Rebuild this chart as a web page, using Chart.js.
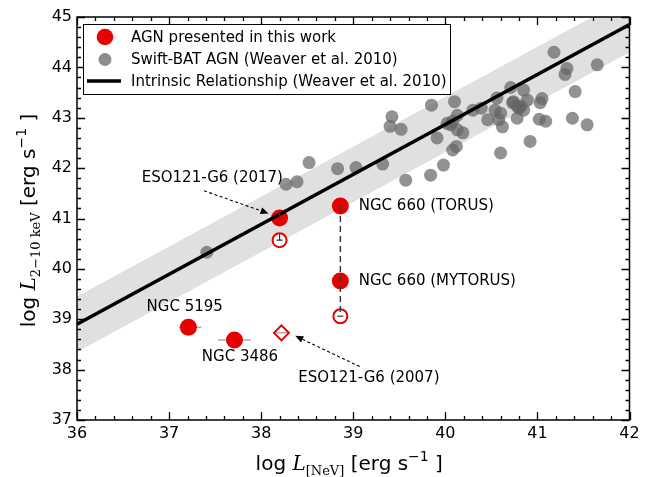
<!DOCTYPE html>
<html><head><meta charset="utf-8">
<script src="https://cdn.jsdelivr.net/npm/chart.js@4/dist/chart.umd.min.js"></script>
<style>html,body{margin:0;padding:0;background:#fff}#wrap{width:665px;height:477px}</style>
</head><body><div id="wrap"><canvas id="c" width="665" height="477"></canvas></div>
<script>
// ---------- data ----------
const xTickValues = [36, 37, 38, 39, 40, 41, 42];
const yTickValues = [37, 38, 39, 40, 41, 42, 43, 44, 45];

// Swift-BAT AGN (Weaver et al. 2010)
const swiftX = [37.41,38.27,38.39,38.52,38.83,39.03,39.32,39.42,39.40,39.52,39.57,39.84,39.85,39.91,39.98,40.02,
  40.08,40.12,40.08,40.06,40.13,40.19,40.10,40.13,40.30,40.39,40.46,40.56,40.54,40.60,40.58,40.62,40.60,
  40.71,40.74,40.78,40.73,40.85,40.82,40.80,40.85,40.89,40.78,40.92,41.05,41.03,41.02,41.09,
  41.18,41.32,41.30,41.65,41.41,41.38,41.54];
const swiftY = [40.33,41.68,41.73,42.11,41.99,42.01,42.08,43.02,42.83,42.77,41.76,41.86,43.25,42.60,42.06,42.89,
  42.36,42.43,42.93,42.86,42.76,42.70,43.32,43.05,43.15,43.19,42.96,43.39,43.15,43.09,42.96,42.82,42.30,
  43.60,43.32,43.23,43.30,43.55,43.23,43.19,43.15,43.35,42.99,42.53,43.38,43.30,42.97,42.93,
  44.30,43.98,43.86,44.05,43.52,42.99,42.86];

// AGN presented in this work (filled)
const workNames = ['ESO121-G6 (2017)', 'NGC 660 (TORUS)', 'NGC 660 (MYTORUS)', 'NGC 5195', 'NGC 3486'];
const workX = [38.20, 38.86, 38.86, 37.21, 37.71];
const workY = [41.01, 41.25, 39.76, 38.84, 38.59];
// open circles (alternative values)
const openX = [38.20, 38.86];
const openY = [40.57, 39.06];
// ESO121-G6 (2007) open diamond
const diamondX = [38.22];
const diamondY = [38.73];
// horizontal error bars
const errX = [37.21, 37.71, 38.22];
const errY = [38.84, 38.59, 38.73];
const errLo = [37.11, 37.53, 38.14];
const errHi = [37.35, 37.89, 38.29];

// Intrinsic relationship
const relX = [36, 42];
const relY = [38.90, 44.85];
const relScatter = 0.55;

// NGC 660 connector
const connX = [38.86, 38.86];
const connY = [41.25, 39.06];

// Text annotations
const annText = ['ESO121-G6 (2017)', 'ESO121-G6 (2007)'];
const annTextX = [37.47, 39.17];
const annTextY = [41.80, 37.84];
const annFromX = [37.38, 39.07];
const annFromY = [41.55, 38.06];
const annToX = [38.08, 38.37];
const annToY = [41.10, 38.67];

const lblText = ['NGC 660 (TORUS)', 'NGC 660 (MYTORUS)', 'NGC 5195', 'NGC 3486'];
const lblX = [39.06, 39.06, 37.17, 37.77];
const lblY = [41.25, 39.76, 39.24, 38.25];
const lblAlign = ['left', 'left', 'center', 'center'];

const legendLabels = ['AGN presented in this work', 'Swift-BAT AGN (Weaver et al. 2010)', 'Intrinsic Relationship (Weaver et al. 2010)'];

// ---------- styles ----------
const RED = '#e60000';
const GREYPT = 'rgba(100,100,100,0.7)';
const SANS = '"DejaVu Sans", sans-serif';
const SERIF = '"DejaVu Serif", serif';

const pts = (xs, ys) => xs.map((x, i) => ({x, y: ys[i]}));

function richText(ctx, parts, cx, cy) {
  let total = 0;
  parts.forEach(p => { ctx.font = p.font; p.w = ctx.measureText(p.t).width; total += p.w; });
  let x = cx - total / 2;
  ctx.textBaseline = 'alphabetic';
  ctx.textAlign = 'left';
  parts.forEach(p => { ctx.font = p.font; ctx.fillText(p.t, x, cy + (p.dy || 0)); x += p.w; });
}

const decor = {
  id: 'decor',
  beforeDatasetsDraw(chart) {
    const ctx = chart.ctx, xs = chart.scales.x, ys = chart.scales.y;
    ctx.save();
    ctx.strokeStyle = '#aaaaaa';
    ctx.lineWidth = 1.5;
    errX.forEach((x, i) => {
      const py = ys.getPixelForValue(errY[i]);
      ctx.beginPath();
      ctx.moveTo(xs.getPixelForValue(errLo[i]), py);
      ctx.lineTo(xs.getPixelForValue(errHi[i]), py);
      ctx.stroke();
    });
    ctx.restore();
  },
  afterDatasetsDraw(chart) {
    const ctx = chart.ctx, xs = chart.scales.x, ys = chart.scales.y, ca = chart.chartArea;
    ctx.save();
    // small dark error ticks inside ESO121-G6 markers
    ctx.strokeStyle = '#333';
    ctx.lineWidth = 1.2;
    {
      const px = xs.getPixelForValue(workX[0]), py = ys.getPixelForValue(workY[0]);
      ctx.beginPath(); ctx.moveTo(px, py - 5); ctx.lineTo(px, py + 1); ctx.stroke();
      const ox = xs.getPixelForValue(openX[0]), oy = ys.getPixelForValue(openY[0]);
      ctx.beginPath(); ctx.moveTo(ox, oy - 6); ctx.lineTo(ox, oy); ctx.moveTo(ox - 3, oy); ctx.lineTo(ox + 3, oy); ctx.stroke();
      const nx = xs.getPixelForValue(openX[1]), ny = ys.getPixelForValue(openY[1]);
      ctx.beginPath(); ctx.moveTo(nx - 3, ny); ctx.lineTo(nx + 3, ny); ctx.stroke();
    }
    // frame
    ctx.strokeStyle = '#000';
    ctx.lineWidth = 1.5;
    ctx.strokeRect(ca.left, ca.top, ca.right - ca.left, ca.bottom - ca.top);
    // inward ticks on all four sides
    ctx.lineWidth = 1.3;
    ctx.beginPath();
    for (let i = 0; i <= 30; i++) {
      const v = 36 + i * 0.2;
      const L = i % 5 === 0 ? 8 : 4;
      const px = Math.round(xs.getPixelForValue(v)) + 0.5;
      ctx.moveTo(px, ca.bottom); ctx.lineTo(px, ca.bottom - L);
      ctx.moveTo(px, ca.top); ctx.lineTo(px, ca.top + L);
    }
    for (let i = 0; i <= 40; i++) {
      const v = 37 + i * 0.2;
      const L = i % 5 === 0 ? 8 : 4;
      const py = Math.round(ys.getPixelForValue(v)) + 0.5;
      ctx.moveTo(ca.left, py); ctx.lineTo(ca.left + L, py);
      ctx.moveTo(ca.right, py); ctx.lineTo(ca.right - L, py);
    }
    ctx.stroke();
    // arrows
    ctx.strokeStyle = '#000'; ctx.fillStyle = '#000'; ctx.lineWidth = 1.1;
    annFromX.forEach((fx, i) => {
      const x0 = xs.getPixelForValue(fx), y0 = ys.getPixelForValue(annFromY[i]);
      const x1 = xs.getPixelForValue(annToX[i]), y1 = ys.getPixelForValue(annToY[i]);
      const ang = Math.atan2(y1 - y0, x1 - x0);
      const hl = 8, hw = 3.5;
      const bx = x1 - hl * Math.cos(ang), by = y1 - hl * Math.sin(ang);
      ctx.setLineDash([3, 2.5]);
      ctx.beginPath(); ctx.moveTo(x0, y0); ctx.lineTo(bx, by); ctx.stroke();
      ctx.setLineDash([]);
      ctx.beginPath();
      ctx.moveTo(x1, y1);
      ctx.lineTo(bx + hw * Math.sin(ang), by - hw * Math.cos(ang));
      ctx.lineTo(bx - hw * Math.sin(ang), by + hw * Math.cos(ang));
      ctx.closePath(); ctx.fill();
    });
    // annotation texts
    ctx.font = '15px ' + SANS;
    ctx.textBaseline = 'middle';
    ctx.fillStyle = '#000';
    annText.forEach((t, i) => {
      ctx.textAlign = 'center';
      ctx.fillText(t, xs.getPixelForValue(annTextX[i]), ys.getPixelForValue(annTextY[i]));
    });
    lblText.forEach((t, i) => {
      ctx.textAlign = lblAlign[i];
      ctx.fillText(t, xs.getPixelForValue(lblX[i]), ys.getPixelForValue(lblY[i]));
    });
    ctx.restore();
  },
  afterDraw(chart) {
    const ctx = chart.ctx, ca = chart.chartArea;
    ctx.save();
    // legend
    const lx = ca.left + 6, ly = ca.top + 7, lw = 367, lh = 70;
    ctx.fillStyle = '#fff';
    ctx.fillRect(lx, ly, lw, lh);
    ctx.strokeStyle = '#000'; ctx.lineWidth = 1;
    ctx.strokeRect(lx + 0.5, ly + 0.5, lw, lh);
    const rows = [ly + 13, ly + 35.5, ly + 57];
    const mx = lx + 22;
    ctx.fillStyle = RED;
    ctx.beginPath(); ctx.arc(mx, rows[0], 8.3, 0, Math.PI * 2); ctx.fill();
    ctx.fillStyle = 'rgba(140,140,140,1)';
    ctx.beginPath(); ctx.arc(mx, rows[1], 6.5, 0, Math.PI * 2); ctx.fill();
    ctx.strokeStyle = '#000'; ctx.lineWidth = 3.5;
    ctx.beginPath(); ctx.moveTo(lx + 4, rows[2]); ctx.lineTo(lx + 38, rows[2]); ctx.stroke();
    ctx.fillStyle = '#000';
    ctx.font = '15px ' + SANS;
    ctx.textAlign = 'left'; ctx.textBaseline = 'middle';
    legendLabels.forEach((t, i) => ctx.fillText(t, lx + 48, rows[i] + 1));
    // axis titles
    ctx.fillStyle = '#000';
    const F = 20;
    richText(ctx, [
      {t: 'log ', font: F + 'px ' + SANS},
      {t: 'L', font: 'italic ' + F + 'px ' + SERIF},
      {t: '[NeV]', font: '13px ' + SERIF, dy: 5},
      {t: ' [erg s', font: F + 'px ' + SANS},
      {t: '\u22121', font: '14px ' + SANS, dy: -9},
      {t: ' ]', font: F + 'px ' + SANS}
    ], (ca.left + ca.right) / 2 - 4, 470);
    ctx.translate(35, (ca.top + ca.bottom) / 2 + 2);
    ctx.rotate(-Math.PI / 2);
    richText(ctx, [
      {t: 'log ', font: F + 'px ' + SANS},
      {t: 'L', font: 'italic ' + F + 'px ' + SERIF},
      {t: '2\u221210 keV', font: '13px ' + SERIF, dy: 5},
      {t: ' [erg s', font: F + 'px ' + SANS},
      {t: '\u22121', font: '14px ' + SANS, dy: -9},
      {t: ' ]', font: F + 'px ' + SANS}
    ], 0, 0);
    ctx.restore();
  }
};

new Chart(document.getElementById('c'), {
  type: 'scatter',
  data: {
    datasets: [
      { label: 'conn', data: pts(connX, connY), showLine: true, borderColor: '#3a3a3a', borderWidth: 1.5,
        borderDash: [6, 4], pointRadius: 0, order: 0 },
      { label: 'Intrinsic Relationship (Weaver et al. 2010)', data: pts(relX, relY), showLine: true,
        borderColor: '#000', borderWidth: 3.5, pointRadius: 0, order: 1 },
      { label: 'AGN presented in this work', data: pts(workX, workY), backgroundColor: RED, borderWidth: 0,
        pointRadius: 8.5, order: 2 },
      { label: 'open', data: pts(openX, openY), backgroundColor: '#fff', borderColor: RED, borderWidth: 2,
        pointRadius: 7, order: 3 },
      { label: 'ESO121-G6 (2007)', data: pts(diamondX, diamondY), backgroundColor: 'rgba(255,255,255,0)',
        borderColor: RED, borderWidth: 2, pointStyle: 'rectRot', pointRadius: 7.5, order: 3 },
      { label: 'Swift-BAT AGN (Weaver et al. 2010)', data: pts(swiftX, swiftY), backgroundColor: GREYPT,
        borderWidth: 0, pointRadius: 6.5, order: 5 },
      { label: 'upper', data: pts(relX, relY.map(v => v + relScatter)), showLine: true, borderWidth: 0,
        borderColor: 'rgba(0,0,0,0)', pointRadius: 0, backgroundColor: '#e0e0e0', fill: '+1', order: 6 },
      { label: 'lower', data: pts(relX, relY.map(v => v - relScatter)), showLine: true, borderWidth: 0,
        borderColor: 'rgba(0,0,0,0)', pointRadius: 0, order: 6 }
    ]
  },
  options: {
    responsive: false,
    devicePixelRatio: 1,
    animation: false,
    events: [],
    layout: { padding: { left: 0, top: 17, right: 35.5, bottom: 0 } },
    plugins: { legend: { display: false }, tooltip: { enabled: false } },
    scales: {
      x: {
        type: 'linear', min: 36, max: 42,
        afterFit: s => { s.height = 57; },
        afterBuildTicks: s => { s.ticks = xTickValues.map(v => ({value: v})); },
        grid: { display: false, drawTicks: false, tickLength: 0 },
        border: { display: false },
        ticks: { color: '#000', font: { family: SANS, size: 16 }, padding: 4, autoSkip: false, maxRotation: 0,
          callback: v => String(v) }
      },
      y: {
        type: 'linear', min: 37, max: 45,
        afterFit: s => { s.width = 77; },
        afterBuildTicks: s => { s.ticks = yTickValues.map(v => ({value: v})); },
        grid: { display: false, drawTicks: false, tickLength: 0 },
        border: { display: false },
        ticks: { color: '#000', font: { family: SANS, size: 16 }, padding: 5, autoSkip: false,
          callback: v => String(v) }
      }
    }
  },
  plugins: [decor]
});
</script>
</body></html>
